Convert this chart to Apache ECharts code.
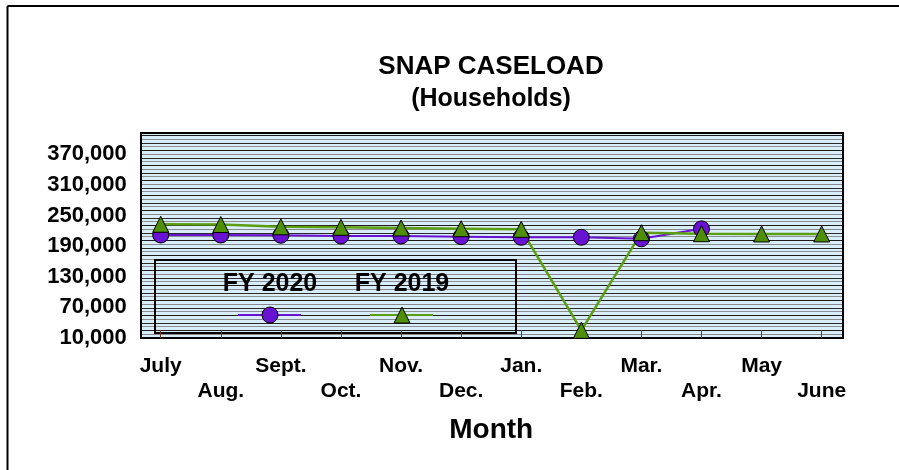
<!DOCTYPE html>
<html lang="en">
  <head>
    <meta charset="UTF-8" />
    <title>SNAP Caseload</title>
    <script src="https://cdn.jsdelivr.net/npm/echarts@6/dist/echarts.min.js"></script>
    <style>
      html, body { margin: 0; padding: 0; background: #fff; }
      .echarts { width: 899px; height: 470px; }
    </style>
  </head>
  <body>
    <div class="echarts"></div>
    <script>
      const months = ['July', 'Aug.', 'Sept.', 'Oct.', 'Nov.', 'Dec.', 'Jan.', 'Feb.', 'Mar.', 'Apr.', 'May', 'June'];
      const fy2020 = [212000, 212000, 211500, 210000, 210000, 208700, 207500, 207500, 204500, 224000, null, null];
      const fy2019 = [233000, 232500, 228000, 227000, 225700, 224300, 223000, 25000, 216500, 214500, 214000, 214000];
      const yMin = 10000, yMax = 410000, yStep = 60000;

      const font = '"Liberation Sans", Arial, sans-serif';
      const purple = '#6a12d2';
      const green = '#4f8f06';
      const greenLine = '#5c9e10';

      // striped plot background (light blue with thin horizontal lines)
      function stripes() {
        const c = document.createElement('canvas');
        c.width = 8; c.height = 15;
        const g = c.getContext('2d');
        g.fillStyle = '#d9edfb';
        g.fillRect(0, 0, 8, 15);
        const rows = [[0, '#1c1c1c'], [4, '#858a90'], [8, '#2a2a2a'], [11, '#8a9096']];
        rows.forEach(([y, col]) => { g.fillStyle = col; g.fillRect(0, y, 8, 1); });
        return c;
      }

      const myCharts = echarts.init(document.querySelector('.echarts'), null, { renderer: 'canvas' });
      const option = {
        animation: false,
        textStyle: { fontFamily: font },
        title: {
          text: 'SNAP CASELOAD',
          subtext: '(Households)',
          left: 491, top: 54, padding: 0, itemGap: 7,
          textAlign: 'center',
          textStyle: { fontSize: 26, fontWeight: 'bold', color: '#000', fontFamily: font },
          subtextStyle: { fontSize: 25, fontWeight: 'bold', color: '#000', fontFamily: font }
        },
        grid: { left: 160.7, width: 661, top: 134, height: 204, containLabel: false },
        xAxis: {
          type: 'category',
          data: months,
          boundaryGap: false,
          name: 'Month',
          nameLocation: 'middle',
          nameGap: 78,
          nameTextStyle: { fontSize: 28, fontWeight: 'bold', color: '#000', fontFamily: font },
          axisLine: { show: false },
          axisTick: { show: true, inside: true, length: 8, interval: 0, lineStyle: { color: '#7a3414', width: 1 } },
          axisLabel: {
            interval: 0, margin: 16, fontSize: 21, fontWeight: 'bold', color: '#000', lineHeight: 25,
            formatter: (v, i) => (i % 2 ? '\n' + v : v)
          },
          splitLine: { show: false }
        },
        yAxis: {
          type: 'value',
          min: yMin, max: yMax, interval: yStep,
          axisLine: { show: false },
          axisTick: { show: false },
          splitLine: { show: false },
          axisLabel: {
            showMaxLabel: false,
            margin: 34, fontSize: 22, fontWeight: 'bold', color: '#000',
            padding: [0, 0, 10, 0],
            formatter: v => v.toLocaleString('en-US')
          }
        },
        graphic: [
          // outer chart border (left and top)
          { type: 'line', shape: { x1: 7.5, y1: 6, x2: 899, y2: 6 }, style: { stroke: '#000', lineWidth: 2 }, z: 0 },
          { type: 'line', shape: { x1: 7.5, y1: 6, x2: 7.5, y2: 470 }, style: { stroke: '#000', lineWidth: 2 }, z: 0 },
          // plot area frame with striped fill
          {
            type: 'rect', z: 0,
            shape: { x: 141, y: 133, width: 702, height: 205 },
            style: { fill: { image: stripes(), repeat: 'repeat' }, stroke: '#000', lineWidth: 2 }
          },
          // legend box
          {
            type: 'group', z: 5,
            children: [
              { type: 'rect', shape: { x: 155, y: 260, width: 361, height: 73 }, style: { fill: 'transparent', stroke: '#000', lineWidth: 2 } },
              { type: 'text', x: 270, y: 284, style: { text: 'FY 2020', font: 'bold 25px ' + font, fill: '#000', align: 'center', verticalAlign: 'middle' } },
              { type: 'text', x: 402, y: 284, style: { text: 'FY 2019', font: 'bold 25px ' + font, fill: '#000', align: 'center', verticalAlign: 'middle' } },
              { type: 'line', shape: { x1: 238, y1: 315, x2: 301, y2: 315 }, style: { stroke: purple, lineWidth: 2 } },
              { type: 'circle', shape: { cx: 270, cy: 315, r: 8 }, style: { fill: purple, stroke: '#000', lineWidth: 1 } },
              { type: 'line', shape: { x1: 370, y1: 315, x2: 433, y2: 315 }, style: { stroke: greenLine, lineWidth: 2 } },
              { type: 'polygon', shape: { points: [[402, 307], [410, 323], [394, 323]] }, style: { fill: green, stroke: '#000', lineWidth: 1 } }
            ]
          }
        ],
        series: [
          {
            name: 'FY 2020', type: 'line', data: fy2020, clip: false,
            symbol: 'circle', symbolSize: 16,
            lineStyle: { color: purple, width: 2 },
            itemStyle: { color: purple, borderColor: '#000', borderWidth: 1 }
          },
          {
            name: 'FY 2019', type: 'line', data: fy2019, clip: false,
            symbol: 'triangle', symbolSize: 16,
            lineStyle: { color: greenLine, width: 2.5 },
            itemStyle: { color: green, borderColor: '#000', borderWidth: 1 }
          }
        ]
      };
      myCharts.setOption(option);
    </script>
  </body>
</html>
